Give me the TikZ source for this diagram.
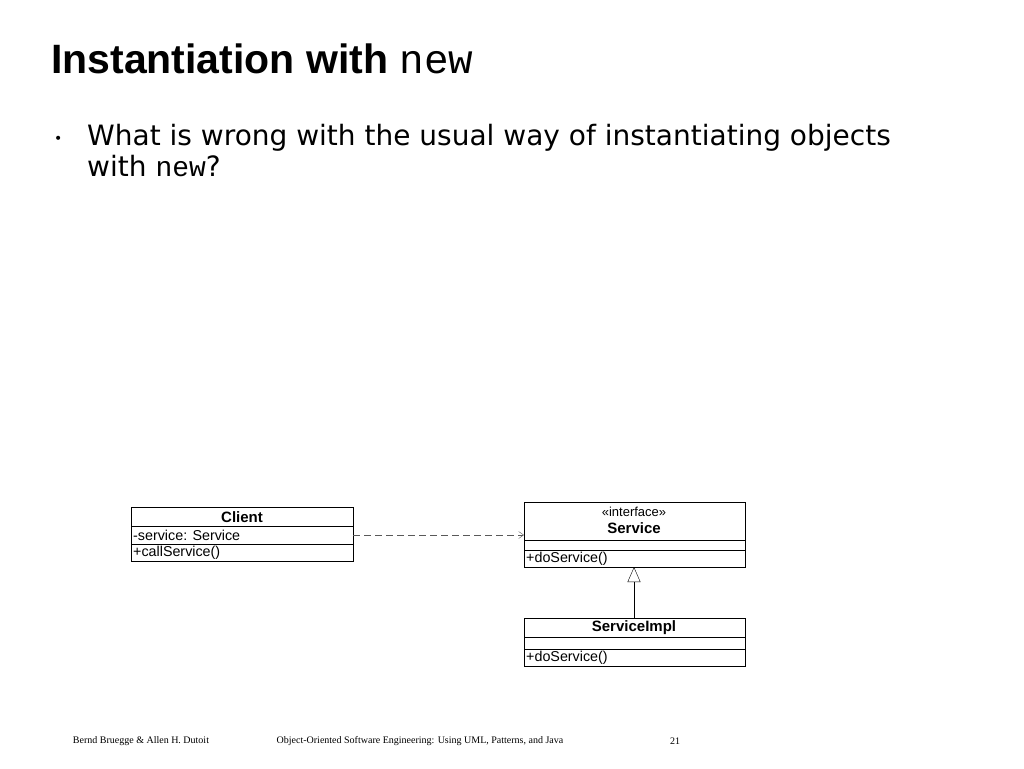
\documentclass[tikz,border=0pt]{standalone}
\usepackage{fontspec}
\setmainfont{Liberation Sans}
\newfontfamily\body{DejaVu Sans}
\newfontfamily\ser{Liberation Serif}
\setmonofont{Liberation Mono}
\usetikzlibrary{arrows.meta}
\begin{document}
\begin{tikzpicture}[x=1pt,y=-1pt,
  box/.style={draw,line width=0.8pt},
  uml/.style={font=\fontsize{14.3}{15}\selectfont,inner sep=0pt,anchor=west},
  umlb/.style={font=\fontsize{15}{16}\selectfont\bfseries,inner sep=0pt},
  foot/.style={font=\ser\fontsize{10}{12}\selectfont,inner sep=0pt}]
\useasboundingbox (0,0) rectangle (1024,768);
\node[anchor=west,inner sep=0pt,font=\fontsize{41}{44}\selectfont\bfseries] (title) at (51,59) {Instantiation with \texttt{\mdseries new}};
\node[anchor=west,inner sep=0pt,font=\body\fontsize{14}{14}\selectfont] (bul) at (54,140) {•};
\node[anchor=north west,inner sep=0pt,align=left,font=\body\fontsize{28}{31}\selectfont] (txt) at (87,124) {What is wrong with the usual way of instantiating objects\\with \texttt{new}?};
% Client
\draw[box] (131,507) rectangle (353,561);
\draw (131,526) -- (353,526) (131,544) -- (353,544);
\node[umlb] (cl) at (242,517) {Client};
\node[uml] (cla) at (133,535) {-service: Service};
\node[uml] (clm) at (133,553) {+callService()};
\coordinate (cr) at (353,535);
% Service
\draw[box] (524,502) rectangle (745,567);
\draw (524,540) -- (745,540) (524,550) -- (745,550);
\node[uml,anchor=center,font=\fontsize{13}{14}\selectfont] (st) at (634,512) {«interface»};
\node[umlb] (sv) at (634,528) {Service};
\node[uml] (svm) at (526,559) {+doService()};
\coordinate (sl) at (524,535);
\coordinate (sb) at (634,567);
% ServiceImpl
\draw[box] (524,618) rectangle (745,666);
\draw (524,637) -- (745,637) (524,649) -- (745,649);
\node[umlb] (si) at (634,628) {ServiceImpl};
\node[uml] (sim) at (526,658) {+doService()};
\coordinate (st2) at (634,618);
\draw[dashed,dash pattern=on 7pt off 4pt,-{Straight Barb[length=5pt,width=7pt]},gray!70!black] (cr) -- (sl);
\draw[-{Triangle[open,length=15pt,width=13pt]}] (st2) -- (sb);
% footer
\node[foot] (f1) at (141,741) {Bernd Bruegge \& Allen H. Dutoit};
\node[foot] (f2) at (420,741) {Object-Oriented Software Engineering: Using UML, Patterns, and Java};
\node[foot] (f3) at (675,741) {21};
\end{tikzpicture}
\end{document}
